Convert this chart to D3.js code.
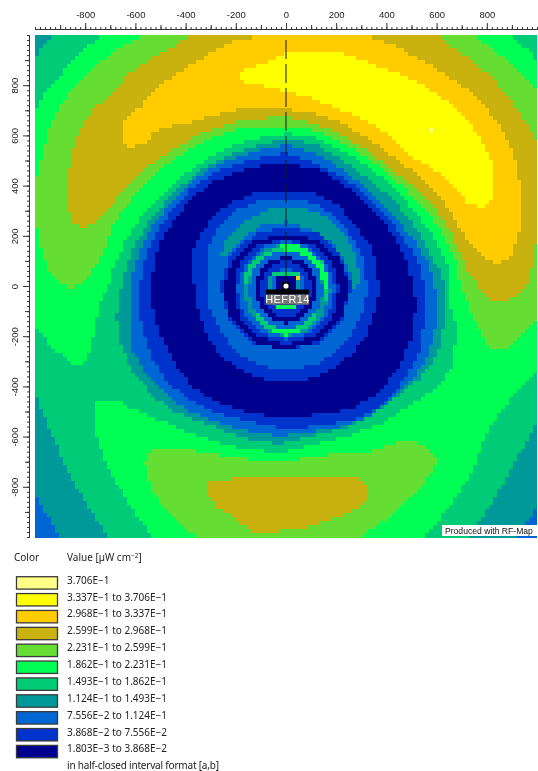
<!DOCTYPE html>
<html>
<head>
<meta charset="utf-8">
<title>RF-Map field strength</title>
<script src="https://d3js.org/d3.v7.min.js"></script>
<style>
  html, body { margin: 0; background: #fff; overflow: hidden; }
  svg { display: block; filter: blur(0.35px); }
  text { font-family: "Liberation Sans", sans-serif; }
  .legend text { font-family: "Noto Sans", sans-serif; font-size: 10px; fill: #222; }
  .axis text { font-size: 9.5px; fill: #222; }
  .axis path, .axis line { stroke: #333; }
</style>
</head>
<body>
<script>
// legend, high to low
var legendLabels = ["3.706E\u22121", "3.337E\u22121 to 3.706E\u22121", "2.968E\u22121 to 3.337E\u22121",
  "2.599E\u22121 to 2.968E\u22121", "2.231E\u22121 to 2.599E\u22121", "1.862E\u22121 to 2.231E\u22121",
  "1.493E\u22121 to 1.862E\u22121", "1.124E\u22121 to 1.493E\u22121", "7.556E\u22122 to 1.124E\u22121",
  "3.868E\u22122 to 7.556E\u22122", "1.803E\u22123 to 3.868E\u22122"];
// band colours, index 0 = lowest band
var bandColors = ["#00008f", "#0033cc", "#0066d4", "#009999", "#00cc77", "#00ff55",
  "#66dd33", "#c9b210", "#ffcc00", "#ffff00", "#ffff88"];

var majorTicks = [-800, -600, -400, -200, 0, 200, 400, 600, 800];
var midTicks = [-900, -700, -500, -300, -100, 100, 300, 500, 700, 900];
var minorTicks = d3.range(-1000, 1001, 20);

// contour outlines, in map units
var cornerTL4 = [[-1000,1000],[-737,1000],[-771,975],[-837,921],[-891,855],[-944,801],[-977,748],[-1000,695]];
var cornerTL3 = [[-1000,1000],[-937,1000],[-957,975],[-984,948],[-1000,915]];
var cornerTR4 = [[903,1000],[1000,1000],[1000,900],[976,935]];
var cornerBR4 = [[1000,-332],[933,-399],[856,-492],[789,-599],[749,-719],[683,-825],[603,-931],[536,-1000],[1000,-1000]];
var cornerBR3 = [[1000,-532],[936,-652],[856,-799],[763,-945],[716,-1000],[1000,-1000]];
var cornerBR2 = [[1000,-879],[949,-945],[909,-1000],[1000,-1000]];
var cornerBL3 = [[-1000,-412],[-957,-532],[-904,-652],[-851,-759],[-797,-865],[-704,-1000],[-1000,-1000]];
var cornerBL2 = [[-1000,-825],[-944,-919],[-897,-1000],[-1000,-1000]];
var leftBand4 = [[-1000,-159],[-917,-252],[-824,-319],[-791,-292],[-737,-52],[-697,28],[-600,-300],[-620,-470],
  [-691,-445],[-751,-452],[-764,-505],[-757,-572],[-724,-679],[-664,-799],[-597,-905],[-524,-1000],[-1000,-1000]];

var lowerBlob6 = [[-564,-692],[-531,-645],[-411,-645],[-277,-665],[-91,-692],[16,-699],[56,-685],[216,-659],[349,-652],
  [469,-612],[549,-625],[596,-679],[589,-719],[536,-799],[443,-892],[349,-965],[283,-1000],[-344,-1000],[-411,-959],[-477,-892],[-531,-812],[-557,-732]];
var lowerBlob7 = [[-317,-785],[-304,-772],[-224,-765],[-171,-755],[16,-755],[96,-752],[243,-759],[296,-759],[329,-799],
  [325,-852],[256,-899],[189,-925],[69,-965],[-24,-972],[-131,-972],[-171,-945],[-224,-905],[-271,-879],[-311,-825]];

var crescent6 = [[-917,28],[-944,68],[-984,175],[-997,281],[-997,428],[-971,535],[-944,641],[-877,761],[-797,841],[-737,901],
  [-664,955],[-584,1000],[749,1000],[829,948],[923,868],[1000,795],[1000,-132],[883,-245],[809,-245],[749,-132],[689,28],
  [676,95],[629,201],[563,295],[469,401],[349,501],[243,568],[109,628],[3,641],[-91,641],[-197,628],[-317,588],[-411,535],
  [-491,481],[-571,401],[-637,321],[-691,241],[-711,175],[-737,121],[-804,21],[-851,1],[-891,8]];
var crescent7 = [[-877,348],[-871,428],[-857,521],[-824,628],[-771,708],[-691,781],[-624,855],[-537,915],[-437,968],[-384,1000],
  [603,1000],[656,961],[736,908],[816,841],[896,748],[949,668],[1000,568],[1000,228],[969,28],[936,-19],[883,-45],[823,-52],
  [763,8],[749,28],[723,55],[696,121],[656,215],[616,281],[536,375],[429,468],[323,548],[216,615],[109,655],[3,679],[-104,675],
  [-224,655],[-331,615],[-437,561],[-531,495],[-611,428],[-691,335],[-751,261],[-804,235],[-851,261]];
var crescent8 = [[-117,1000],[-171,988],[-237,975],[-304,935],[-371,895],[-437,855],[-491,815],[-544,768],[-571,721],[-637,681],
  [-651,615],[-657,588],[-624,555],[-557,575],[-531,615],[-464,641],[-397,655],[-317,681],[-197,708],[3,711],[109,695],[216,661],
  [336,588],[429,521],[536,441],[616,361],[649,308],[683,241],[736,175],[803,108],[843,91],[896,121],[929,228],[939,335],[929,428],
  [909,521],[869,615],[803,708],[723,788],[629,855],[536,908],[443,961],[329,1000]];
var crescent9 = [[-181,861],[-181,821],[-104,808],[3,781],[109,755],[216,708],[323,668],[429,595],[509,515],[603,461],[683,388],
  [729,328],[789,321],[823,348],[829,415],[816,508],[776,595],[709,681],[643,741],[563,795],[469,848],[376,881],[283,915],[169,948],
  [3,935],[-91,895]];
var peak10 = [[566,622],[586,622],[586,642],[566,642]];

var disk4 = [[-697,-12],[-691,68],[-644,175],[-584,268],[-517,348],[-424,441],[-331,501],[-224,561],[-117,595],[3,615],[123,595],
  [243,535],[349,468],[456,375],[536,268],[603,175],[643,81],[656,-12],[643,-39],[676,-145],[676,-212],[656,-319],[603,-399],[483,-479],
  [376,-545],[269,-585],[109,-625],[-24,-659],[-91,-652],[-224,-632],[-357,-592],[-464,-545],[-557,-505],[-624,-479]];
var disk3 = [[-651,28],[-631,95],[-597,175],[-531,281],[-451,375],[-344,468],[-224,528],[-117,568],[3,595],[123,568],[229,508],[336,428],
  [443,335],[523,228],[576,121],[609,68],[636,-12],[636,-105],[603,-265],[536,-359],[456,-425],[363,-492],[243,-559],[109,-592],[-24,-625],
  [-157,-605],[-277,-559],[-357,-532],[-451,-492],[-531,-432],[-611,-332],[-657,-225],[-675,-119],[-657,-12]];
var disk2 = [[-617,28],[-597,95],[-557,201],[-504,281],[-424,375],[-317,468],[-211,515],[-104,548],[3,571],[123,535],[229,468],[336,388],
  [429,295],[509,188],[563,95],[596,-12],[603,-105],[569,-265],[496,-372],[416,-452],[323,-519],[203,-559],[83,-579],[-24,-592],
  [-157,-572],[-291,-532],[-384,-492],[-464,-439],[-544,-359],[-611,-252],[-624,-119]];
var disk1 = [[-577,28],[-564,95],[-524,201],[-464,295],[-384,388],[-291,455],[-184,495],[-91,521],[3,535],[109,501],[229,441],[323,361],
  [416,268],[483,175],[529,95],[556,-12],[549,-145],[523,-279],[469,-372],[389,-465],[296,-519],[176,-545],[69,-559],[-24,-559],
  [-157,-532],[-291,-499],[-397,-439],[-477,-372],[-531,-279],[-571,-172],[-584,-79]];
var disk0 = [[-531,28],[-524,108],[-491,201],[-437,281],[-371,361],[-277,428],[-171,468],[-91,488],[3,495],[136,468],[243,401],[336,321],
  [416,228],[476,121],[509,-12],[516,-79],[496,-212],[443,-332],[363,-425],[269,-479],[149,-505],[-24,-519],[-171,-492],[-291,-452],
  [-384,-385],[-451,-292],[-504,-185],[-528,-79]];

var inner1 = [[-371,28],[-371,148],[-331,228],[-277,295],[-197,348],[-104,381],[3,388],[109,375],[203,335],[283,241],[349,148],[376,-12],
  [356,-92],[323,-185],[263,-265],[176,-332],[69,-372],[-24,-379],[-117,-359],[-197,-319],[-264,-265],[-317,-185],[-351,-92]];
var inner2 = [[-317,28],[-317,121],[-297,201],[-251,255],[-197,308],[-104,348],[3,355],[109,335],[196,288],[263,201],[309,108],[325,-12],
  [309,-92],[269,-172],[216,-239],[136,-299],[43,-325],[-24,-332],[-104,-305],[-197,-259],[-264,-172],[-304,-79]];
var tealArc = [[-264,128],[-231,201],[-157,268],[-77,308],[3,321],[96,308],[176,275],[249,195],[283,121],[296,15],[269,1],[249,81],
  [189,175],[96,235],[3,261],[-91,248],[-171,201],[-237,128]];
var shoulder1 = [[0,240],[125,215],[220,125],[263,0],[225,-125],[130,-220],[0,-250],[-130,-220],[-225,-128],[-264,0],[-222,125],[-125,212]];
var navyRing = [[0,208],[125,190],[215,110],[255,0],[220,-122],[128,-216],[0,-248],[-128,-216],[-220,-125],[-252,0],[-215,105],[-125,185]];
var ring1 = [[0,194],[107,170],[187,100],[212,-8],[187,-115],[107,-194],[0,-225],[-107,-194],[-187,-115],[-208,-8],[-187,100],[-107,170]];
var ring2 = [[0,184],[97,160],[170,88],[196,-10],[170,-108],[97,-180],[0,-208],[-97,-180],[-170,-108],[-196,-10],[-170,88],[-97,160]];
var ring3 = [[0,178],[88,150],[150,85],[180,-10],[150,-105],[88,-170],[0,-196],[-85,-165],[-145,-100],[-172,-10],[-150,78],[-88,145]];
var arcTop4 = [[-170,20],[-150,85],[-85,140],[0,170],[85,155],[150,95],[175,20],[172,-50],[155,-50],[150,15],[125,80],[70,130],[0,150],[-70,125],[-130,75],[-155,15]];
var arcTop5 = [[-30,168],[40,168],[100,142],[150,92],[170,30],[170,-10],[155,-10],[150,25],[120,80],[75,118],[30,145],[-30,150]];
var arcLow4 = [[-130,-115],[-85,-160],[0,-190],[85,-160],[130,-115],[115,-105],[70,-145],[0,-165],[-70,-145],[-115,-105]];
var arcLow5 = [[-50,-172],[0,-190],[50,-172],[50,-158],[0,-170],[-50,-158]];
var core2 = [[0,148],[75,125],[128,70],[150,-10],[128,-90],[75,-145],[0,-168],[-75,-145],[-128,-90],[-150,-10],[-128,70],[-75,125]];
var core0 = [[0,125],[62,105],[108,56],[125,-10],[108,-72],[62,-122],[0,-145],[-62,-122],[-108,-72],[-125,-10],[-108,56],[-62,105]];
var core1 = [[0,112],[52,90],[91,46],[105,-10],[91,-62],[52,-104],[0,-122],[-52,-104],[-91,-62],[-105,-10],[-91,46],[-52,90]];
var hub2 = [[0,72],[45,62],[72,30],[80,-10],[70,-50],[40,-75],[0,-88],[-40,-75],[-70,-50],[-80,-10],[-72,30],[-45,62]];
var hubTop = [[-50,64],[50,64],[50,48],[-50,48]];
var hubLeft = [[-64,50],[-48,50],[-48,0],[-64,0]];
var hubRight8 = [[48,52],[64,52],[64,32],[48,32]];
var hubRight3 = [[48,32],[64,32],[64,0],[48,0]];
var hubLow = [[-40,-64],[40,-64],[40,-80],[-40,-80]];
var hub0 = [[-45,48],[45,48],[45,-60],[-45,-60]];

// painted in this order, later ones on top: [band, outline]
var layers = [
  [4, cornerTL4], [3, cornerTL3], [4, cornerTR4], [4, cornerBR4], [3, cornerBR3], [2, cornerBR2],
  [4, leftBand4], [3, cornerBL3], [2, cornerBL2],
  [6, lowerBlob6], [7, lowerBlob7],
  [6, crescent6], [7, crescent7], [8, crescent8], [9, crescent9], [10, peak10],
  [4, disk4], [3, disk3], [2, disk2], [1, disk1], [0, disk0],
  [1, inner1], [2, inner2], [3, tealArc], [1, shoulder1], [0, navyRing], [1, ring1], [2, ring2], [3, ring3],
  [4, arcTop4], [5, arcTop5], [4, arcLow4], [5, arcLow5],
  [2, core2], [0, core0], [1, core1], [2, hub2],
  [4, hubTop], [3, hubLeft], [8, hubRight8], [3, hubRight3], [5, hubLow], [0, hub0]
];

var width = 538, height = 771, cell = 16;

var x = d3.scaleLinear().domain([-1000, 1000]).range([35, 537]);
var y = d3.scaleLinear().domain([-1000, 1000]).range([537, 35]);

var svg = d3.select("body").append("svg").attr("width", width).attr("height", height);

// sample the contours on the RF-Map grid, merge runs along each row
var runs = [];
d3.range(-1000, 1000, cell).forEach(function(v0) {
  var current = null;
  d3.range(-1000, 1000, cell).forEach(function(u0) {
    var p = [u0 + cell / 2, v0 + cell / 2 + 4], band = 5;
    layers.forEach(function(l) {
      if (d3.polygonContains(l[1], p)) band = l[0];
    });
    if (current && current.band === band) {
      current.u1 = u0 + cell;
    } else {
      current = { band: band, u0: u0, u1: u0 + cell, v0: v0 };
      runs.push(current);
    }
  });
});

svg.append("g").attr("shape-rendering", "crispEdges")
  .selectAll("rect").data(runs).join("rect")
  .attr("x", function(d) { return x(d.u0); })
  .attr("y", function(d) { return y(d.v0 + cell); })
  .attr("width", function(d) { return x(d.u1) - x(d.u0); })
  .attr("height", function(d) { return y(d.v0) - y(d.v0 + cell) + 0.5; })
  .attr("fill", function(d) { return bandColors[d.band]; });

// axes
function axisLayer(axisFn, pos, vals, size, labelled) {
  var a = axisFn.tickValues(vals).tickSize(size).tickSizeOuter(0)
    .tickFormat(labelled ? function(d) { return d; } : "");
  return svg.append("g").attr("class", "axis").attr("transform", pos).call(a);
}
var topPos = "translate(0,29)", leftPos = "translate(29,0)";
axisLayer(d3.axisTop(x), topPos, minorTicks, 2, false);
axisLayer(d3.axisTop(x), topPos, midTicks, 4, false);
axisLayer(d3.axisTop(x), topPos, majorTicks, 6, true).selectAll("text").attr("y", -11);
axisLayer(d3.axisLeft(y), leftPos, minorTicks, 2, false);
axisLayer(d3.axisLeft(y), leftPos, midTicks, 4, false);
axisLayer(d3.axisLeft(y), leftPos, majorTicks, 6, true).selectAll("text")
  .attr("x", 0).attr("y", 0).attr("dy", 0)
  .attr("text-anchor", "middle")
  .attr("transform", "translate(-11,0) rotate(-90)");

// transmitter bearing line
svg.append("line").attr("x1", x(0)).attr("x2", x(0)).attr("y1", y(980)).attr("y2", y(170))
  .attr("stroke", "#1a1a1a").attr("stroke-opacity", 0.85).attr("stroke-width", 1.2).attr("stroke-dasharray", "19,5");
svg.append("line").attr("x1", x(0)).attr("x2", x(0)).attr("y1", y(170)).attr("y2", y(0))
  .attr("stroke", "#111").attr("stroke-width", 1);

// station marker and label
svg.append("rect").attr("x", x(-16)).attr("y", y(16)).attr("width", x(16) - x(-16)).attr("height", y(-16) - y(16)).attr("fill", "#000");
svg.append("rect").attr("x", x(-80)).attr("y", y(-14)).attr("width", x(92) - x(-80)).attr("height", y(-34) - y(-14)).attr("fill", "#000");
svg.append("rect").attr("x", x(-80)).attr("y", y(-34)).attr("width", x(92) - x(-80)).attr("height", y(-74) - y(-34)).attr("fill", "#777");
svg.append("circle").attr("cx", x(0)).attr("cy", y(0)).attr("r", 2.6).attr("fill", "#fff");
svg.append("text").attr("x", x(6)).attr("y", y(-68)).attr("text-anchor", "middle")
  .attr("font-size", 11).attr("letter-spacing", 0.4).attr("fill", "#fff").text("HEFR14");

// credit box
svg.append("rect").attr("x", 442).attr("y", 525).attr("width", 95).attr("height", 11).attr("fill", "#fff");
svg.append("text").attr("x", 445).attr("y", 534).attr("font-size", 8.6).attr("fill", "#111").text("Produced with RF-Map");

// legend
var legend = svg.append("g").attr("class", "legend");
legend.append("text").attr("x", 14).attr("y", 561).text("Color");
var head = legend.append("text").attr("x", 67).attr("y", 561).text("Value [\u00b5W cm");
head.append("tspan").attr("dy", -3).attr("font-size", 6.5).text("\u22122");
head.append("tspan").attr("dy", 3).text("]");

var row = d3.scaleBand().domain(d3.range(legendLabels.length)).range([576.7, 576.7 + 16.87 * legendLabels.length]);
legend.selectAll("rect").data(legendLabels).join("rect")
  .attr("x", 16.5).attr("y", function(d, i) { return row(i); })
  .attr("width", 41).attr("height", 12.4)
  .attr("fill", function(d, i) { return bandColors[10 - i]; })
  .attr("stroke", "#3a3a3a").attr("stroke-width", 1.3);
legend.selectAll("text.lab").data(legendLabels).join("text").attr("class", "lab")
  .attr("x", 67).attr("y", function(d, i) { return row(i) + 7; })
  .text(function(d) { return d; });
legend.append("text").attr("x", 67).attr("y", 768.5).attr("textLength", 152).text("in half-closed interval format [a,b]");
</script>
</body>
</html>
